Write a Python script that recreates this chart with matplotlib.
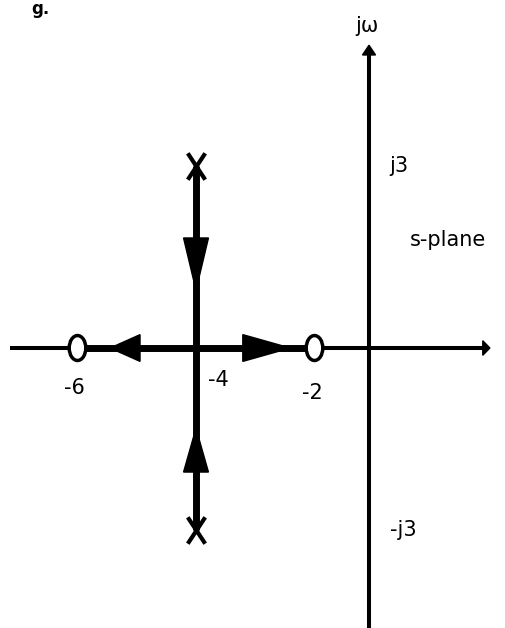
import matplotlib.pyplot as plt
from matplotlib.path import Path
from matplotlib.patches import Ellipse

# root locus sketch: two poles at -4 +/- j3, two zeros at -6 and -2
zeros_re = [-6, -2]
poles_re = [-4, -4]
poles_im = [3, -3]
real_ticks = [-6, -4, -2]
real_tick_labels = ['-6', '-4', '-2']
imag_ticks = [3, -3]
imag_tick_labels = ['j3', '-j3']

# the sketch is not to scale: jw axis sits about here on the real axis
jw_x = -1.08

fig = plt.figure(figsize=(5.05, 6.28), dpi=100)
ax = fig.add_axes([0, 0, 1, 1])
ax.set_xlim(-7.308, 1.215)
ax.set_ylim(-4.605, 5.724)
ax.axis('off')

# axes
ax.plot([-7.14, 0.90], [0, 0], color='black', lw=2.9, solid_capstyle='butt', zorder=1)
ax.fill([0.96, 0.84, 0.84], [0, 0.12, -0.12], color='black', zorder=1)
ax.plot([jw_x, jw_x], [-4.7, 4.85], color='black', lw=2.9, solid_capstyle='butt', zorder=1)
ax.fill([jw_x, jw_x - 0.11, jw_x + 0.11], [4.98, 4.82, 4.82], color='black', zorder=1)

# locus branches
ax.plot([zeros_re[0], zeros_re[1]], [0, 0], color='black', lw=5, solid_capstyle='butt', zorder=2)
ax.plot([poles_re[0], poles_re[1]], [poles_im[0], poles_im[1]], color='black', lw=5,
        solid_capstyle='butt', zorder=2)


def arrowhead(tip, base, half):
    tx, ty = tip
    bx, by = base
    if tx == bx:
        xs = [tx, bx - half, bx + half]
        ys = [ty, by, by]
    else:
        xs = [tx, bx, bx]
        ys = [ty, by - half, by + half]
    ax.fill(xs, ys, color='black', zorder=3)


arrowhead((-4, 0.95), (-4, 1.81), 0.21)
arrowhead((-4, -1.32), (-4, -2.04), 0.21)
arrowhead((-5.45, 0), (-4.945, 0), 0.22)
arrowhead((-2.41, 0), (-3.21, 0), 0.22)

# zeros drawn as "0"
for z in zeros_re:
    ax.add_patch(Ellipse((z, 0), 0.28, 0.41, facecolor='white', edgecolor='black',
                         lw=2.5, zorder=4))

# poles drawn as tall x
xmark = Path([(-0.33, 0.5), (0.33, -0.5), (0.33, 0.5), (-0.33, -0.5)],
             [Path.MOVETO, Path.LINETO, Path.MOVETO, Path.LINETO])
ax.plot(poles_re, poles_im, linestyle='none', marker=xmark, markersize=19,
        mew=3.0, color='black', zorder=4)

# labels
fs = 15
offsets = {-6: (-0.06, -0.66), -4: (0.37, -0.53), -2: (-0.03, -0.74)}
for v, lab in zip(real_ticks, real_tick_labels):
    dx, dy = offsets[v]
    ax.text(v + dx, dy, lab, ha='center', va='center', fontsize=fs)
for v, lab in zip(imag_ticks, imag_tick_labels):
    ax.text(jw_x + 0.35, v, lab, ha='left', va='center', fontsize=fs)
ax.text(jw_x - 0.03, 5.30, 'j\u03c9', ha='center', va='center', fontsize=fs)
ax.text(-0.39, 1.78, 's-plane', ha='left', va='center', fontsize=fs)
ax.text(-6.62, 5.72, 'g.', ha='center', va='top', fontsize=12, fontweight='bold')

fig.savefig('out.png', dpi=100)
